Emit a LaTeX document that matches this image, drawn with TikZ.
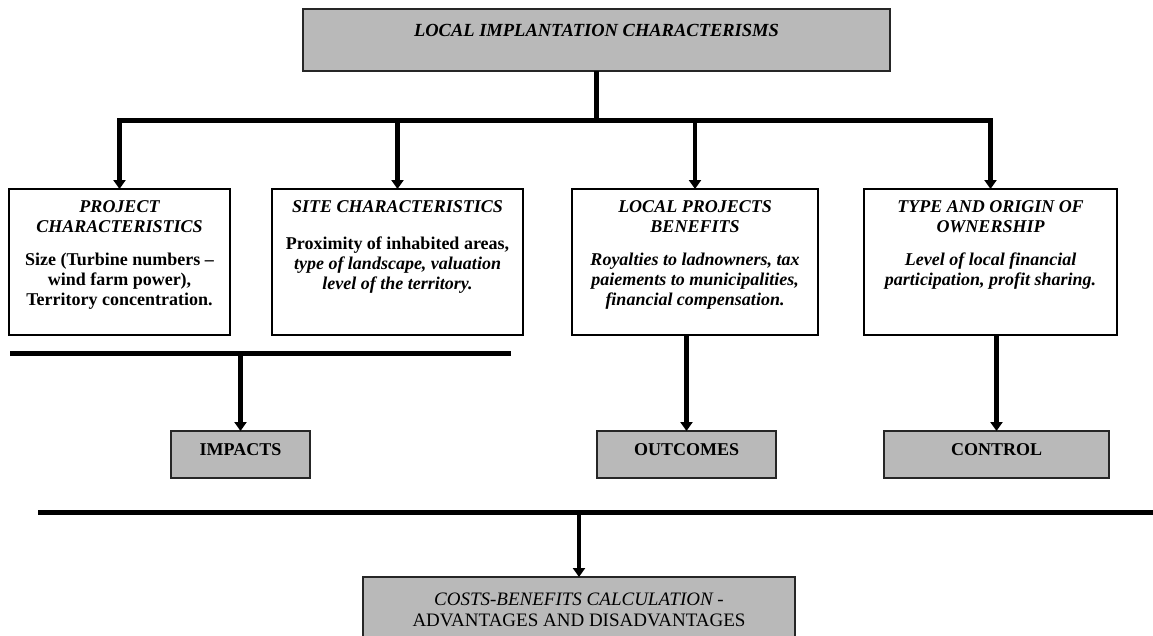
\documentclass[tikz,border=0pt]{standalone}
\usepackage{fontspec}
\setmainfont{Liberation Serif}
\usetikzlibrary{arrows.meta}
\definecolor{boxgray}{RGB}{185,185,185}
\begin{document}
\begin{tikzpicture}[x=1pt,y=-1pt,
  every node/.style={inner sep=0pt, outer sep=0pt},
  wbox/.style={draw=black, line width=1.4pt, fill=white},
  gbox/.style={draw=black!85, line width=1.8pt, fill=boxgray},
  txt/.style={font=\fontsize{18}{19.8}\selectfont\bfseries, align=center, anchor=north},
  lbl/.style={font=\fontsize{18}{19.8}\selectfont\bfseries, anchor=base},
  bar/.style={line width=5pt},
  arr/.style={line width=4.5pt, -{Triangle[width=12pt,length=9pt]}},
]
\useasboundingbox[fill=white] (0,0) rectangle (1153,635);

% boxes
\node[gbox, minimum width=587pt, minimum height=62pt] (top) at (596.5,40) {};
\node[wbox, minimum width=221pt, minimum height=146pt] (b1) at (119.5,262) {};
\node[wbox, minimum width=251pt, minimum height=146pt] (b2) at (397.5,262) {};
\node[wbox, minimum width=246pt, minimum height=146pt] (b3) at (695,262) {};
\node[wbox, minimum width=253pt, minimum height=146pt] (b4) at (990.5,262) {};
\node[gbox, minimum width=139pt, minimum height=47pt] (impacts) at (240.5,454.5) {};
\node[gbox, minimum width=179pt, minimum height=47pt] (outcomes) at (686.5,454.5) {};
\node[gbox, minimum width=225pt, minimum height=47pt] (control) at (996.5,454.5) {};
\node[gbox, minimum width=432pt, minimum height=68pt] (bottom) at (579,611) {};

% texts
\node[txt, font=\fontsize{18.5}{20}\selectfont\bfseries] (ttop) at (596.5,24) {\itshape LOCAL IMPLANTATION CHARACTERISMS};
\node[txt] (h1) at (119.5,201) {\itshape PROJECT\\\itshape CHARACTERISTICS};
\node[txt] (t1) at (119.5,253) {Size (Turbine numbers --\\wind farm power),\\Territory concentration.};
\node[txt] (h2) at (397.5,201) {\itshape SITE CHARACTERISTICS};
\node[txt] (t2) at (397.5,237) {Proximity of inhabited areas,\\\itshape type of landscape, valuation\\\itshape level of the territory.};
\node[txt] (h3) at (695,201) {\itshape LOCAL PROJECTS\\\itshape BENEFITS};
\node[txt] (t3) at (695,253) {\itshape Royalties to ladnowners, tax\\\itshape paiements to municipalities,\\\itshape financial compensation.};
\node[txt] (h4) at (990.5,201) {\itshape TYPE AND ORIGIN OF\\\itshape OWNERSHIP};
\node[txt] (t4) at (990.5,253) {\itshape Level of local financial\\\itshape participation, profit sharing.};
\node[lbl] (li) at (240.5,455) {IMPACTS};
\node[lbl] (lo) at (686.5,455) {OUTCOMES};
\node[lbl] (lc) at (996.5,455) {CONTROL};
\node[anchor=north, align=center, font=\fontsize{19}{20.5}\selectfont] (tb) at (579,593) {\itshape COSTS-BENEFITS CALCULATION -\\ADVANTAGES AND DISADVANTAGES};

% connectors
\coordinate (busY) at (0,120);
\draw[bar] (top.south) -- (top.south |- busY);
\draw[bar, line cap=rect] (b1.north |- busY) -- (b4.north |- busY);
\foreach \b in {b1,b2,b3,b4} \draw[arr] (\b.north |- busY) -- (\b.north);

\coordinate (L2) at (10,353);
\coordinate (R2) at (511,353);
\draw[bar] (L2) -- (R2);
\draw[arr] (impacts.north |- L2) -- (impacts.north);
\draw[arr] (outcomes.north |- b3.south) -- (outcomes.north);
\draw[arr] (control.north |- b4.south) -- (control.north);

\coordinate (L3) at (38,512);
\coordinate (R3) at (1153,512);
\draw[bar] (L3) -- (R3);
\draw[arr] (bottom.north |- L3) -- (bottom.north);
\end{tikzpicture}
\end{document}
